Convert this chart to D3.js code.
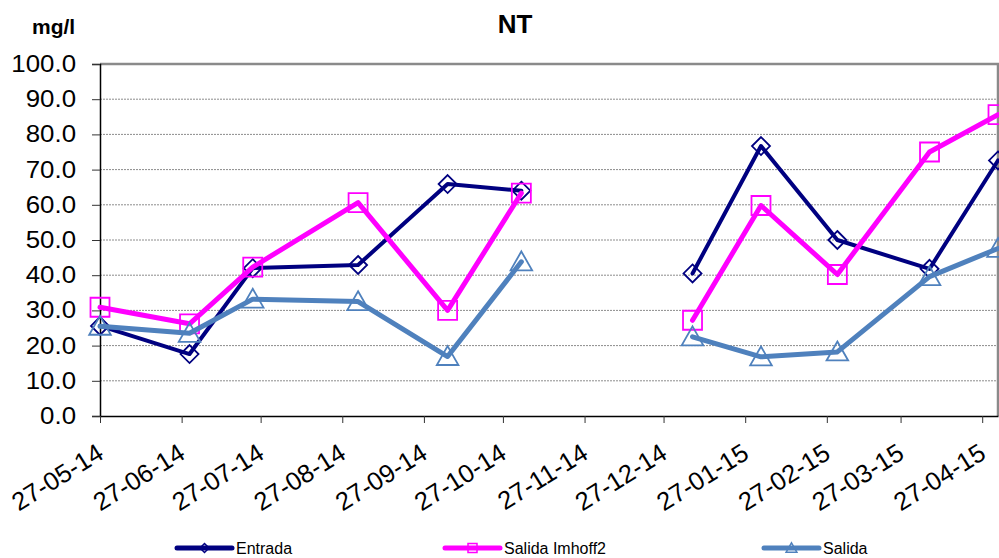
<!DOCTYPE html>
<html>
<head>
<meta charset="utf-8">
<script src="https://cdn.jsdelivr.net/npm/d3@7"></script>
<style>
  body { margin: 0; background: #fff; }
  svg { display: block; }
  text { font-family: "Liberation Sans", Arial, sans-serif; fill: #000; }
</style>
</head>
<body>
<svg id="chart" width="999" height="558"></svg>
<script>
// Sampling dates (December has no measurement, so the lines break there)
const sampleDates = ["2014-05-27", "2014-06-30", "2014-07-24", "2014-09-02", "2014-10-06", "2014-11-03",
                     "2014-12-05", "2015-01-07", "2015-02-02", "2015-03-03", "2015-04-07", "2015-05-03"];
// Total nitrogen, mg/l
const entrada       = [25.6, 17.6, 42.0, 42.9, 65.9, 64.0, null, 40.5, 76.7, 50.0, 41.8, 72.6];
const salidaImhoff2 = [30.9, 26.2, 42.3, 60.6, 30.0, 63.3, null, 27.2, 59.8, 40.2, 75.0, 85.6];
const salida        = [25.5, 23.5, 33.2, 32.5, 16.9, 43.8, null, 22.5, 16.8, 18.2, 39.6, 47.6];
const seriesNames   = ["Entrada", "Salida Imhoff2", "Salida"];
const yTicks = [0, 10, 20, 30, 40, 50, 60, 70, 80, 90, 100];
const xTickDates = ["2014-05-27", "2014-06-27", "2014-07-27", "2014-08-27", "2014-09-27", "2014-10-27",
                    "2014-11-27", "2014-12-27", "2015-01-27", "2015-02-27", "2015-03-27", "2015-04-27"];
const titleText = "NT";
const unitText = "mg/l";

const parse = d3.timeParse("%Y-%m-%d");
const fmt = d3.timeFormat("%d-%m-%y");
const dates = sampleDates.map(parse);

const svg = d3.select("#chart");
const m = { left: 100, right: 998, top: 64, bottom: 416 };
const stretch = 1.1; // value labels are a little wider than plain Arial

const x = d3.scaleTime().domain([dates[0], dates[dates.length - 1]]).range([m.left, m.right]);
const y = d3.scaleLinear().domain([0, 100]).range([m.bottom, m.top]);

// Horizontal dotted gridlines
svg.append("g").selectAll("line")
  .data(yTicks.filter(v => v > 0 && v < 100))
  .join("line")
  .attr("x1", m.left).attr("x2", m.right)
  .attr("y1", d => y(d)).attr("y2", d => y(d))
  .attr("stroke", "#8c8c8c").attr("stroke-width", 1).attr("stroke-dasharray", "2,1");

// Plot-area border (top and right)
svg.append("path")
  .attr("d", `M${m.left},${y(100)}H${m.right}V${m.bottom}`)
  .attr("fill", "none").attr("stroke", "#8a8a8a").attr("stroke-width", 2.5);

// Y axis
const yAxis = svg.append("g").attr("transform", `translate(${m.left},0)`)
  .call(d3.axisLeft(y).tickValues(yTicks).tickFormat(d3.format(".1f")).tickSize(8).tickPadding(16));
yAxis.select(".domain").attr("stroke", "#000").attr("stroke-width", 1.5);
yAxis.selectAll(".tick line").attr("stroke", "#333");
yAxis.selectAll(".tick text")
  .attr("font-size", 23.5).attr("font-family", '"Liberation Sans", Arial, sans-serif')
  .attr("x", -24 / stretch)
  .attr("transform", `scale(${stretch},1)`);

// X axis
const xAxis = svg.append("g").attr("transform", `translate(0,${m.bottom})`)
  .call(d3.axisBottom(x).tickValues(xTickDates.map(parse)).tickFormat(fmt).tickSize(7).tickSizeOuter(0));
xAxis.select(".domain").attr("stroke", "#000").attr("stroke-width", 1.5);
xAxis.selectAll(".tick line").attr("stroke", "#333");
xAxis.selectAll(".tick text")
  .attr("font-size", 25.5).attr("font-family", '"Liberation Sans", Arial, sans-serif')
  .attr("text-anchor", "end")
  .attr("y", 0).attr("dy", "0.72em")
  .attr("transform", "translate(-5,26) rotate(-32)");

// Series
const series = [
  { name: seriesNames[0], values: entrada,       color: "#000080", width: 4, marker: "diamond" },
  { name: seriesNames[1], values: salidaImhoff2, color: "#ff00ff", width: 5, marker: "square" },
  { name: seriesNames[2], values: salida,        color: "#4f81bd", width: 5, marker: "triangle" }
];

function markerPath(type, r) {
  if (type === "diamond") return `M0,${-r}L${r},0L0,${r}L${-r},0Z`;
  if (type === "square") return `M${-r},${-r}H${r}V${r}H${-r}Z`;
  const h = r * 2.1;
  return `M0,${-h * 0.55}L${r * 1.2},${h * 0.45}L${-r * 1.2},${h * 0.45}Z`;
}

const line = d3.line()
  .defined(d => d.v != null)
  .x(d => x(d.date)).y(d => y(d.v));

series.forEach(s => {
  const pts = dates.map((date, i) => ({ date, v: s.values[i] }));
  svg.append("path").datum(pts)
    .attr("d", line)
    .attr("fill", "none").attr("stroke", s.color).attr("stroke-width", s.width)
    .attr("stroke-linejoin", "round").attr("stroke-linecap", "round");
  svg.append("g").selectAll("path")
    .data(pts.filter(d => d.v != null))
    .join("path")
    .attr("transform", d => `translate(${x(d.date)},${y(d.v)})`)
    .attr("d", markerPath(s.marker, s.marker === "square" ? 9.5 : 9))
    .attr("fill", "none").attr("stroke", s.color).attr("stroke-width", 1.8);
});

// Title and unit
svg.append("text").attr("x", 515).attr("y", 33).attr("text-anchor", "middle")
  .attr("font-size", 26).attr("font-weight", "bold").text(titleText);
svg.append("text").attr("x", 32).attr("y", 34)
  .attr("font-size", 21).attr("font-weight", "bold").text(unitText);

// Legend
const legendX = [177, 445, 764];
const legend = svg.append("g");
series.forEach((s, i) => {
  const g = legend.append("g").attr("transform", `translate(${legendX[i]},548)`);
  g.append("line").attr("x1", 0).attr("x2", 55).attr("y1", 0).attr("y2", 0)
    .attr("stroke", s.color).attr("stroke-width", 5).attr("stroke-linecap", "round");
  g.append("path").attr("transform", "translate(27.5,0)")
    .attr("d", markerPath(s.marker, 4.5))
    .attr("fill", "none").attr("stroke", s.color).attr("stroke-width", 1.5);
  g.append("text").attr("x", 59).attr("y", 0).attr("dy", "0.35em")
    .attr("font-size", 16).text(s.name);
});
</script>
</body>
</html>
